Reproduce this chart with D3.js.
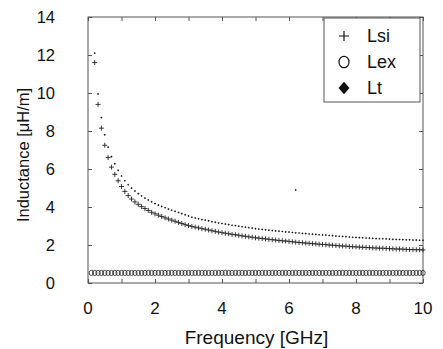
<!DOCTYPE html>
<html>
<head>
<meta charset="utf-8">
<script src="https://cdn.jsdelivr.net/npm/d3@7"></script>
<style>
	body { margin: 0; background: #fff; }
	text { font-family: "Liberation Sans", Arial, sans-serif; fill: #111; }
</style>
</head>
<body>
<div id="chart"></div>
<script>
// frequency points [GHz]
const freqs = [
	0.1, 0.2, 0.3, 0.4, 0.5, 0.6, 0.7, 0.8, 0.9, 1.0,
	1.1, 1.2, 1.3, 1.4, 1.5, 1.6, 1.7, 1.8, 1.9, 2.0,
	2.1, 2.2, 2.3, 2.4, 2.5, 2.6, 2.7, 2.8, 2.9, 3.0,
	3.1, 3.2, 3.3, 3.4, 3.5, 3.6, 3.7, 3.8, 3.9, 4.0,
	4.1, 4.2, 4.3, 4.4, 4.5, 4.6, 4.7, 4.8, 4.9, 5.0,
	5.1, 5.2, 5.3, 5.4, 5.5, 5.6, 5.7, 5.8, 5.9, 6.0,
	6.1, 6.2, 6.3, 6.4, 6.5, 6.6, 6.7, 6.8, 6.9, 7.0,
	7.1, 7.2, 7.3, 7.4, 7.5, 7.6, 7.7, 7.8, 7.9, 8.0,
	8.1, 8.2, 8.3, 8.4, 8.5, 8.6, 8.7, 8.8, 8.9, 9.0,
	9.1, 9.2, 9.3, 9.4, 9.5, 9.6, 9.7, 9.8, 9.9, 10.0
];

// Lsi [uH/m]
const lsi = [
	null, 11.6, 9.4, 8.15, 7.25, 6.6, 6.1, 5.72, 5.38, 5.08,
	4.82, 4.6, 4.42, 4.27, 4.14, 4.02, 3.92, 3.82, 3.72, 3.64,
	3.57, 3.50, 3.43, 3.37, 3.31, 3.25, 3.19, 3.13, 3.07, 3.02,
	2.98, 2.94, 2.90, 2.86, 2.83, 2.79, 2.75, 2.72, 2.68, 2.65,
	2.62, 2.59, 2.56, 2.54, 2.51, 2.48, 2.46, 2.43, 2.41, 2.38,
	2.36, 2.34, 2.32, 2.30, 2.28, 2.26, 2.24, 2.22, 2.21, 2.19,
	2.17, 2.15, 2.13, 2.12, 2.10, 2.09, 2.07, 2.06, 2.04, 2.03,
	2.02, 2.00, 1.99, 1.97, 1.96, 1.95, 1.94, 1.92, 1.91, 1.90,
	1.89, 1.88, 1.87, 1.86, 1.85, 1.84, 1.83, 1.83, 1.82, 1.81,
	1.80, 1.79, 1.79, 1.78, 1.77, 1.76, 1.76, 1.75, 1.75, 1.74
];

// Lex [uH/m]
const lex = [
	0.53, 0.53, 0.53, 0.53, 0.53, 0.53, 0.53, 0.53, 0.53, 0.53,
	0.53, 0.53, 0.53, 0.53, 0.53, 0.53, 0.53, 0.53, 0.53, 0.53,
	0.53, 0.53, 0.53, 0.53, 0.53, 0.53, 0.53, 0.53, 0.53, 0.53,
	0.53, 0.53, 0.53, 0.53, 0.53, 0.53, 0.53, 0.53, 0.53, 0.53,
	0.53, 0.53, 0.53, 0.53, 0.53, 0.53, 0.53, 0.53, 0.53, 0.53,
	0.53, 0.53, 0.53, 0.53, 0.53, 0.53, 0.53, 0.53, 0.53, 0.53,
	0.53, 0.53, 0.53, 0.53, 0.53, 0.53, 0.53, 0.53, 0.53, 0.53,
	0.53, 0.53, 0.53, 0.53, 0.53, 0.53, 0.53, 0.53, 0.53, 0.53,
	0.53, 0.53, 0.53, 0.53, 0.53, 0.53, 0.53, 0.53, 0.53, 0.53,
	0.53, 0.53, 0.53, 0.53, 0.53, 0.53, 0.53, 0.53, 0.53, 0.53
];

// Lt [uH/m]
const lt = [
	null, 12.1, 9.95, 8.7, 7.8, 7.15, 6.65, 6.27, 5.93, 5.63,
	5.38, 5.17, 4.99, 4.84, 4.70, 4.58, 4.47, 4.37, 4.27, 4.18,
	4.10, 4.03, 3.96, 3.89, 3.83, 3.77, 3.71, 3.65, 3.59, 3.53,
	3.46, 3.42, 3.38, 3.34, 3.31, 3.27, 3.23, 3.20, 3.16, 3.13,
	3.10, 3.07, 3.04, 3.02, 2.99, 2.96, 2.94, 2.91, 2.89, 2.86,
	2.84, 2.82, 2.80, 2.78, 2.76, 2.74, 2.73, 2.71, 2.69, 2.68,
	2.66, 2.64, 2.63, 2.61, 2.60, 2.58, 2.57, 2.56, 2.54, 2.53,
	2.52, 2.50, 2.49, 2.47, 2.46, 2.45, 2.44, 2.42, 2.41, 2.40,
	2.39, 2.38, 2.37, 2.36, 2.35, 2.34, 2.33, 2.33, 2.32, 2.31,
	2.30, 2.29, 2.29, 2.28, 2.27, 2.27, 2.26, 2.26, 2.25, 2.25
];

// lone stray point in the picture
const strayFreq = [6.2];
const strayVal = [4.9];

const xTicks = [0, 2, 4, 6, 8, 10];
const yTicks = [0, 2, 4, 6, 8, 10, 12, 14];
const legendLabels = ["Lsi", "Lex", "Lt"];

const W = 443, H = 349;
const margin = {top: 17, right: 20, bottom: 66, left: 88};
const width = W - margin.left - margin.right;
const height = H - margin.top - margin.bottom;

const svg = d3.select("#chart")
	.append("svg")
	.attr("width", W)
	.attr("height", H)
	.append("g")
	.attr("transform", "translate(" + margin.left + "," + margin.top + ")");

const x = d3.scaleLinear().domain([0, 10]).range([0, width]);
const y = d3.scaleLinear().domain([0, 14]).range([height, 0]);

const frameColor = "#555";

// minor ticks on all four sides, pointing in
const tickStyle = function(g) {
	g.select(".domain").remove();
	g.selectAll(".tick line").attr("stroke", frameColor);
	g.selectAll(".tick text").remove();
};
svg.append("g")
	.attr("transform", "translate(0," + height + ")")
	.call(d3.axisBottom(x).ticks(10).tickSize(-4))
	.call(tickStyle);
svg.append("g")
	.call(d3.axisTop(x).ticks(10).tickSize(-4))
	.call(tickStyle);
svg.append("g")
	.call(d3.axisLeft(y).tickValues(yTicks).tickSize(-4))
	.call(tickStyle);
svg.append("g")
	.attr("transform", "translate(" + width + ",0)")
	.call(d3.axisRight(y).tickValues(yTicks).tickSize(-4))
	.call(tickStyle);

// frame
svg.append("rect")
	.attr("width", width)
	.attr("height", height)
	.attr("fill", "none")
	.attr("stroke", frameColor)
	.attr("stroke-width", 1);

// tick labels
svg.append("g")
	.selectAll("text")
	.data(xTicks)
	.join("text")
	.attr("x", d => x(d))
	.attr("y", height + 31)
	.attr("text-anchor", "middle")
	.style("font-size", "17px")
	.text(d => d);

svg.append("g")
	.selectAll("text")
	.data(yTicks)
	.join("text")
	.attr("x", -33)
	.attr("y", d => y(d))
	.attr("dy", "0.36em")
	.attr("text-anchor", "end")
	.style("font-size", "16.5px")
	.text(d => d);

// axis titles
svg.append("text")
	.attr("x", width / 2 + 1)
	.attr("y", height + 61)
	.attr("text-anchor", "middle")
	.style("font-size", "19px")
	.text("Frequency [GHz]");

svg.append("text")
	.attr("transform", "translate(-59," + (height / 2 + 5) + ") rotate(-90)")
	.attr("text-anchor", "middle")
	.style("font-size", "16.5px")
	.text("Inductance [μH/m]");

const plotArea = svg.append("g");

const toPoints = function(vals) {
	return freqs.map((f, i) => ({x: f, y: vals[i]})).filter(d => d.y !== null);
};

// Lex: open circles, packed so they overlap
plotArea.append("g")
	.selectAll("ellipse")
	.data(toPoints(lex))
	.join("ellipse")
	.attr("cx", d => x(d.x))
	.attr("cy", d => y(d.y))
	.attr("rx", 2.2)
	.attr("ry", 2.6)
	.attr("fill", "none")
	.attr("stroke", "#222")
	.attr("stroke-width", 0.8);

// Lsi: plus marks
plotArea.append("g")
	.selectAll("path")
	.data(toPoints(lsi))
	.join("path")
	.attr("transform", d => "translate(" + x(d.x) + "," + y(d.y) + ")")
	.attr("d", "M-2.5,0H2.5M0,-2.5V2.5")
	.attr("stroke", "#222")
	.attr("stroke-width", 0.9);

// Lt: tiny diamonds
const ltPoints = toPoints(lt).concat(strayFreq.map((f, i) => ({x: f, y: strayVal[i]})));
plotArea.append("g")
	.selectAll("path")
	.data(ltPoints)
	.join("path")
	.attr("transform", d => "translate(" + x(d.x) + "," + y(d.y) + ")")
	.attr("d", d3.symbol().type(d3.symbolDiamond2).size(3))
	.attr("fill", "#111");

// legend
const legend = svg.append("g")
	.attr("transform", "translate(" + (width - 99) + ",1)");

legend.append("rect")
	.attr("width", 96)
	.attr("height", 84)
	.attr("fill", "#fff")
	.attr("stroke", frameColor)
	.attr("stroke-width", 1);

const rowY = [18, 44, 70];

legend.append("path")
	.attr("transform", "translate(20," + rowY[0] + ")")
	.attr("d", "M-5,0H5M0,-5V5")
	.attr("stroke", "#111")
	.attr("stroke-width", 1.2);

legend.append("ellipse")
	.attr("cx", 20)
	.attr("cy", rowY[1])
	.attr("rx", 5)
	.attr("ry", 5.7)
	.attr("fill", "none")
	.attr("stroke", "#111")
	.attr("stroke-width", 1.2);

legend.append("path")
	.attr("transform", "translate(20," + rowY[2] + ") scale(1,1.15)")
	.attr("d", "M0,-5.5L5.5,0L0,5.5L-5.5,0Z")
	.attr("fill", "#111");

legend.selectAll(".lbl")
	.data(legendLabels)
	.join("text")
	.attr("class", "lbl")
	.attr("x", 43)
	.attr("y", (d, i) => rowY[i])
	.attr("dy", "0.36em")
	.style("font-size", "18px")
	.text(d => d);
</script>
</body>
</html>
